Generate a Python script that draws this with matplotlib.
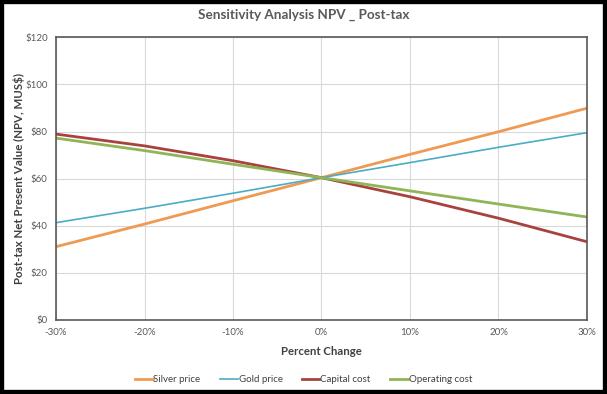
import matplotlib.pyplot as plt
from matplotlib.patches import Rectangle
from matplotlib.ticker import FuncFormatter

# данные
pct = [-30, -20, -10, 0, 10, 20, 30]
silver = [31.1, 40.7, 50.6, 60.4, 70.3, 79.9, 89.9]
gold = [41.3, 47.4, 53.8, 60.4, 66.8, 73.3, 79.5]
capital = [78.9, 73.9, 67.6, 60.4, 52.3, 43.2, 33.2]
operating = [77.2, 71.9, 66.1, 60.4, 54.8, 49.2, 43.7]
names = ['Silver price', 'Gold price', 'Capital cost', 'Operating cost']
colors = ['#EE9A52', '#4BACC6', '#A9423E', '#8FB556']
widths = [2.0, 1.2, 2.0, 2.0]

plt.rcParams['font.family'] = ['Lato', 'DejaVu Sans']

fig = plt.figure(figsize=(6.07, 3.94), dpi=100)
ax = fig.add_axes([0.0923, 0.188, 0.8747, 0.7173])

for series, name, c, w in zip([silver, gold, capital, operating], names, colors, widths):
    ax.plot(pct, series, color=c, lw=w, label=name)

ax.set_xlim(-30, 30)
ax.set_ylim(0, 120)
ax.set_xticks(pct)
ax.set_yticks(range(0, 121, 20))
ax.xaxis.set_major_formatter(FuncFormatter(lambda v, p: '%d%%' % v))
ax.yaxis.set_major_formatter(FuncFormatter(lambda v, p: '$%d' % v))
ax.tick_params(length=0, labelsize=7, colors='#595959', pad=6)
ax.grid(color='#D9D9D9', lw=0.8)
ax.set_axisbelow(True)
for s in ax.spines.values():
    s.set_color('#595959')
    s.set_linewidth(1.2)

fig.text(0.5, 0.962, 'Sensitivity Analysis NPV _ Post-tax', ha='center', va='center',
         fontsize=9.7, fontweight='bold', color='#595959')
fig.text(0.031, 0.547, 'Post-tax Net Present Value (NPV, MUS$)', rotation=90, ha='center',
         va='center', fontsize=8.3, fontweight='bold', color='#404040')
fig.text(0.53, 0.107, 'Percent Change', ha='center', va='center',
         fontsize=8.2, fontweight='bold', color='#404040')

fig.legend(loc='center', bbox_to_anchor=(0.5, 0.036), ncol=4, frameon=False,
           fontsize=7, handlelength=1.8, handletextpad=0.1, columnspacing=2.0,
           labelcolor='#404040')

fig.patches.append(Rectangle((0, 0), 1, 1, transform=fig.transFigure, fill=False,
                             edgecolor='black', lw=6, zorder=10))

fig.savefig('out.png', dpi=100)
